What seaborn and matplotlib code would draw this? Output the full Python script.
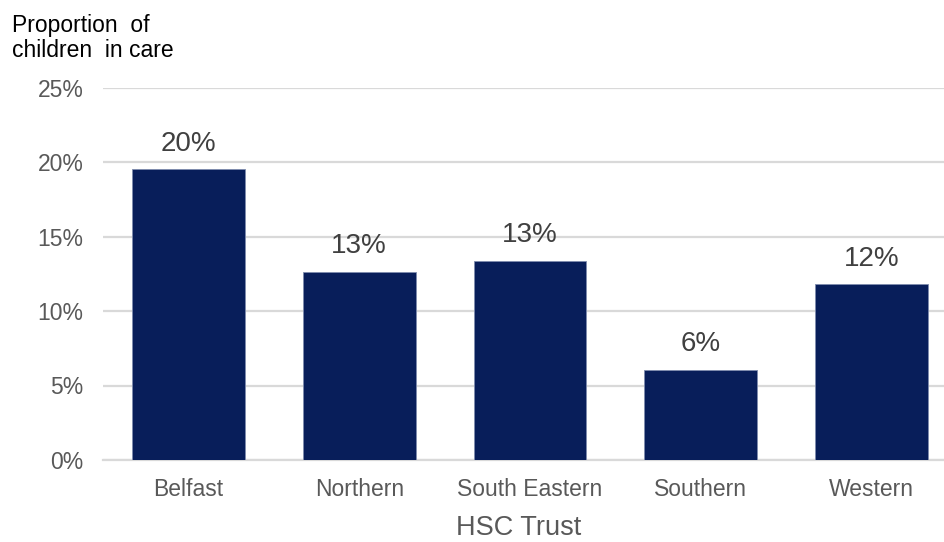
import matplotlib
matplotlib.use("Agg")
import matplotlib.pyplot as plt
import seaborn as sns
import pandas as pd

trusts = ["Belfast", "Northern", "South Eastern", "Southern", "Western"]
proportions = [19.5, 12.64, 13.38, 6.06, 11.81]
y_ticks = [0, 5, 10, 15, 20, 25]
y_tick_labels = ["0%", "5%", "10%", "15%", "20%", "25%"]

df = pd.DataFrame({"trust": trusts, "proportion": proportions})

sns.set_theme(style="white")
plt.rcParams["font.family"] = ["Liberation Sans", "DejaVu Sans"]

W, H = 944, 542
fig = plt.figure(figsize=(W / 100, H / 100), dpi=100)
ax = fig.add_axes([103 / W, (H - 460) / H, (W - 103) / W, (460 - 87.5) / H])

sns.barplot(data=df, x="trust", y="proportion", color="#081E5A",
            width=0.66, saturation=1, edgecolor="#7F8CAE", linewidth=0.6,
            ax=ax, zorder=3)

ax.set_ylim(0, 25)
ax.set_xlim(-0.5, 4.5 - 13 / 171)
ax.set_yticks(y_ticks)
ax.set_yticklabels(y_tick_labels)
ax.yaxis.grid(True, color="#D9D9D9", linewidth=1.6, zorder=0)
ax.set_axisbelow(True)
for s in ["top", "right", "left"]:
    ax.spines[s].set_visible(False)
ax.spines["bottom"].set_color("#D9D9D9")
ax.spines["bottom"].set_linewidth(1.6)
ax.tick_params(axis="y", length=0, pad=14, labelsize=16.5, labelcolor="#595959")
ax.tick_params(axis="x", length=0, pad=13, labelsize=16.5, labelcolor="#595959")
ax.set_ylabel("")
ax.set_xlabel("HSC Trust", fontsize=19.5, color="#595959")
ax.xaxis.set_label_coords((518.5 - 103) / (W - 103), -(528 - 460) / (460 - 87.5))
ax.xaxis.label.set_va("center")

for i, v in enumerate(proportions):
    ax.annotate(f"{v:.0f}%", (i, v), xytext=(0, 9), textcoords="offset points",
                ha="center", va="bottom", fontsize=20, color="#404040")

fig.text(12 / W, 1 - 14 / H, "Proportion  of\nchildren  in care", ha="left", va="top",
         fontsize=16.5, color="#000000", linespacing=1.1)

fig.savefig("out.png", dpi=100)
